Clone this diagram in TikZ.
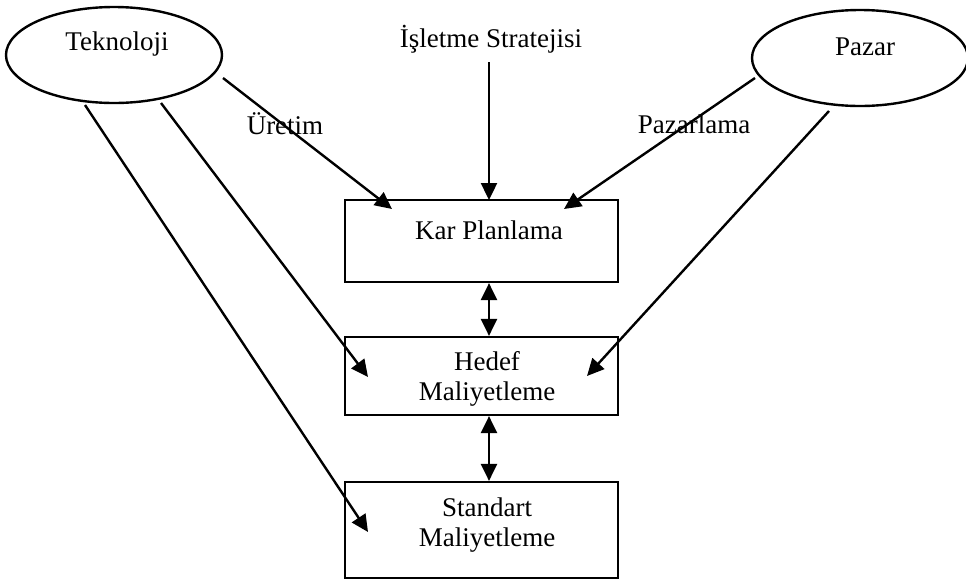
\documentclass[tikz,border=0pt]{standalone}
\usepackage{fontspec}
\setmainfont{Liberation Serif}
\usetikzlibrary{shapes.geometric,arrows.meta}
\begin{document}
\begin{tikzpicture}[x=1pt,y=-1pt,
  every node/.style={font=\fontsize{27}{30}\selectfont, inner sep=0pt},
  conn/.style={line width=2.4pt, -{Triangle[length=17pt,width=16pt]}},
  dconn/.style={line width=2.4pt, {Triangle[length=17pt,width=16pt]}-{Triangle[length=17pt,width=16pt]}},
  oval/.style={draw, line width=2.4pt, ellipse, minimum width=216pt, minimum height=96pt},
  boxs/.style={draw, line width=2.2pt, rectangle, minimum width=273pt}
]
\useasboundingbox (0,0) rectangle (966,579);
% ellipses
\node[oval] (tek) at (114,55) {};
\node (tekt) at (117,44) {Teknoloji};
\node[oval] (paz) at (860,58) {};
\node (pazt) at (865,47) {Pazar};
% top text
\node (isl) at (491,39) {İşletme Stratejisi};
% boxes
\node[boxs, minimum height=82pt] (kar) at (481.5,241) {};
\node (kart) at (489,230) {Kar Planlama};
\node[boxs, minimum height=78pt] (hed) at (481.5,376) {};
\node[align=center] (hedt) at (487,379) {Hedef\\Maliyetleme};
\node[boxs, minimum height=96pt] (std) at (481.5,530) {};
\node[align=center] (stdt) at (487,525) {Standart\\Maliyetleme};
% labels
\node (ure) at (285,124) {Üretim};
\node (pzl) at (694,124) {Pazarlama};
% coordinates
\coordinate (t1) at (223,78);
\coordinate (t2) at (161,103);
\coordinate (t3) at (85,105);
\coordinate (p1) at (755,78);
\coordinate (p2) at (829,111);
\coordinate (i1) at (489,62);
\coordinate (kt1) at (392,209);
\coordinate (kt2) at (489,200);
\coordinate (kt3) at (564,209);
\coordinate (ht1) at (368,377);
\coordinate (ht2) at (587,376);
\coordinate (st1) at (368,532);
% connectors
\draw[conn] (t1) -- (kt1);
\draw[conn] (i1) -- (kt2);
\draw[conn] (p1) -- (kt3);
\draw[conn] (t2) -- (ht1);
\draw[conn] (p2) -- (ht2);
\draw[conn] (t3) -- (st1);
\draw[dconn] (kar.south -| kt2) -- (hed.north -| kt2);
\draw[dconn] (hed.south -| kt2) -- (std.north -| kt2);
\end{tikzpicture}
\end{document}
